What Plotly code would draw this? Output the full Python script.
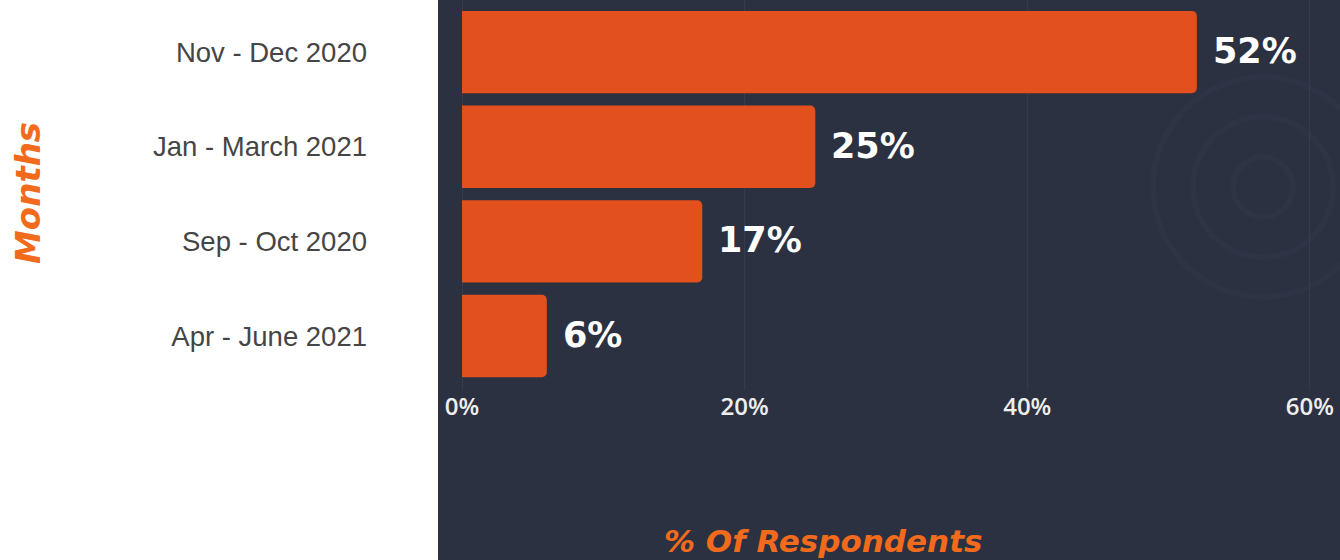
import plotly.graph_objects as go

# Survey results: when respondents expect the event, share of respondents (%)
periods = ["Nov - Dec 2020", "Jan - March 2021", "Sep - Oct 2020", "Apr - June 2021"]
shares = [52, 25, 17, 6]
x_ticks = [0, 20, 40, 60]
x_tick_labels = ["0%", "20%", "40%", "60%"]

BAR = "#E2501D"
PANEL = "#2B3141"
ORANGE = "#F26A1B"
TITLE_FONT = "DejaVu Sans"

W, H = 1340, 560
M_L, M_R, M_T, M_B = 438, 0, 0, 170
plot_w = W - M_L - M_R
plot_h = H - M_T - M_B


def px_x(px):
    return (px - M_L) / plot_w


def px_y(py):
    return 1 - (py - M_T) / plot_h


fig = go.Figure(
    go.Bar(
        x=shares,
        y=periods,
        orientation="h",
        width=0.87,
        marker=dict(color=BAR, line=dict(width=0)),
        hoverinfo="skip",
    )
)

# value labels to the right of each bar
for p, v in zip(periods, shares):
    fig.add_annotation(
        x=v, y=p, xref="x", yref="y",
        text=f"{v}%", showarrow=False,
        xanchor="left", yanchor="middle", xshift=14, yshift=1,
        font=dict(family=TITLE_FONT, size=35, color="#FFFFFF", weight=700),
    )

# dark panel behind the plot, running to the bottom of the page
fig.add_shape(
    type="rect", xref="paper", yref="paper",
    x0=0, x1=1, y0=px_y(H) - 0.01, y1=1.01,
    fillcolor=PANEL, line=dict(width=0), layer="below",
)

# faint watermark rings in the upper right of the panel
cx, cy = 1263, 187
for r in (30, 70, 110):
    fig.add_shape(
        type="circle", xref="paper", yref="paper",
        x0=px_x(cx - r), x1=px_x(cx + r), y0=px_y(cy + r), y1=px_y(cy - r),
        line=dict(color="#2E3445", width=6), fillcolor="rgba(0,0,0,0)", layer="below",
    )

# axis titles
fig.add_annotation(
    x=px_x(823), y=px_y(541),
    xref="paper", yref="paper", text="% Of Respondents", showarrow=False,
    xanchor="center", yanchor="middle",
    font=dict(family=TITLE_FONT, size=31, color=ORANGE, weight=700, style="italic"),
)
fig.add_annotation(
    x=px_x(28), y=px_y(193),
    xref="paper", yref="paper", text="Months", showarrow=False, textangle=-90,
    xanchor="center", yanchor="middle",
    font=dict(family=TITLE_FONT, size=34, color=ORANGE, weight=700, style="italic"),
)

fig.update_layout(
    width=W, height=H,
    margin=dict(l=M_L, r=M_R, t=M_T, b=M_B, pad=0),
    paper_bgcolor="#FFFFFF",
    plot_bgcolor="rgba(0,0,0,0)",
    showlegend=False,
    barcornerradius=5,
    xaxis=dict(
        range=[-1.70, 62.13],
        tickvals=x_ticks, ticktext=x_tick_labels,
        showgrid=True, gridcolor="#343B4C", gridwidth=1,
        zeroline=False, showline=False, ticks="",
        tickfont=dict(family="Open Sans", size=24, color="#EEEEEE", weight=600),
        fixedrange=True,
    ),
    yaxis=dict(
        range=[3.57, -0.55],
        categoryorder="array", categoryarray=periods,
        showgrid=False, zeroline=False, showline=False, ticks="",
        ticklabelstandoff=70,
        tickfont=dict(family="Liberation Sans", size=27.5, color="#454545"),
        fixedrange=True,
    ),
)

fig.write_html("out.html", config={"displayModeBar": False})
